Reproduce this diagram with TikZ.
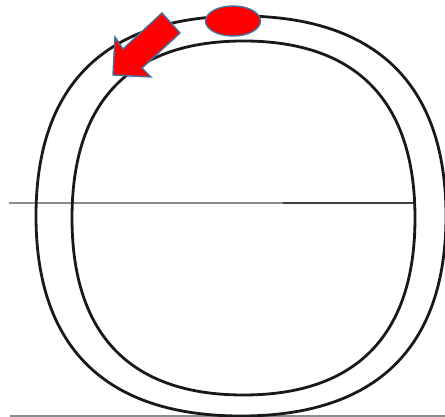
\documentclass[tikz,border=0pt]{standalone}
\usepackage{tikz}
\usetikzlibrary{shapes.geometric}
\definecolor{markRed}{RGB}{255,0,0}
\definecolor{markBlue}{RGB}{65,113,156}
\definecolor{lvlgray}{RGB}{140,140,140}
\tikzset{
  loopline/.style={black!90, line width=1.4pt},
  levelline/.style={lvlgray, line width=0.75pt},
  redmark/.style={fill=markRed, draw=markBlue, line width=0.7pt}
}
\begin{document}
\begin{tikzpicture}[x=0.5pt,y=-0.5pt]
\useasboundingbox (0,0) rectangle (445,417);
% level lines
\draw[levelline] (9,203) -- (283,203);
\draw[levelline, black!75] (283,203) -- (415,203);
\draw[levelline] (10,416) -- (445,416);
% outer loop
\draw[loopline] (446,216) .. controls (446,84) and (376,16) .. (241,16)
  .. controls (106,16) and (36,84) .. (36,216)
  .. controls (36,348) and (106,416) .. (241,416)
  .. controls (376,416) and (446,348) .. (446,216) -- cycle;
% inner loop
\draw[loopline] (415,218) .. controls (415,101) and (356.5,41) .. (243.5,41)
  .. controls (130.5,41) and (72,101) .. (72,218)
  .. controls (72,335) and (130.5,395) .. (243.5,395)
  .. controls (356.5,395) and (415,335) .. (415,218) -- cycle;
% bead and direction arrow
\node[redmark, ellipse, inner sep=0pt, minimum width=27.5pt, minimum height=15pt] (bead) at (233,21) {};
\draw[redmark, line join=miter] (162,13) -- (180,33) -- (142,68) -- (151,77)
  -- (113,75) -- (115,37) -- (123,49) -- cycle;
\end{tikzpicture}
\end{document}
